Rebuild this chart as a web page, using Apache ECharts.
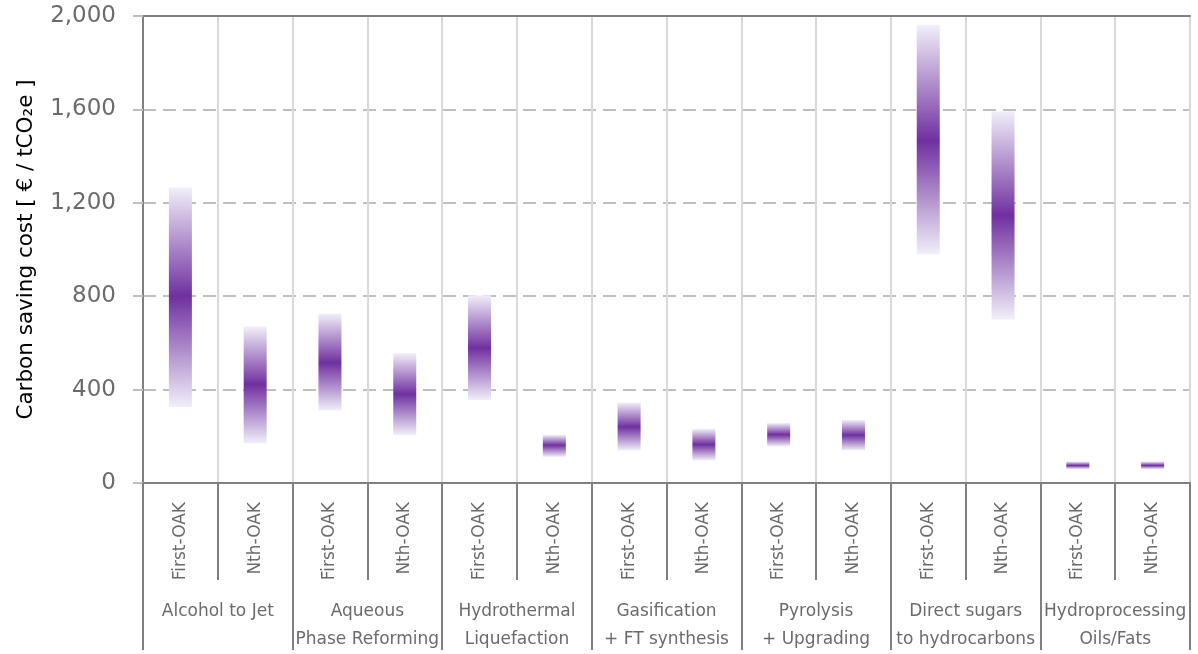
<!DOCTYPE html>
<html>
<head>
<meta charset="utf-8">
<script src="https://cdn.jsdelivr.net/npm/echarts@6/dist/echarts.min.js"></script>
<style>
html,body{margin:0;padding:0;background:#fff;}
#chart{width:1198px;height:654px;}
</style>
</head>
<body>
<div id="chart"></div>
<script>
// ---- data ----
const groups = ['Alcohol to Jet', 'Aqueous\nPhase Reforming', 'Hydrothermal\nLiquefaction', 'Gasification\n+ FT synthesis', 'Pyrolysis\n+ Upgrading', 'Direct sugars\nto hydrocarbons', 'Hydroprocessing\nOils/Fats'];
const stages = ['First-OAK', 'Nth-OAK', 'First-OAK', 'Nth-OAK', 'First-OAK', 'Nth-OAK', 'First-OAK', 'Nth-OAK', 'First-OAK', 'Nth-OAK', 'First-OAK', 'Nth-OAK', 'First-OAK', 'Nth-OAK'];
const lows  = [325, 170, 310, 205, 355, 112, 140,  97, 157, 140,  980,  700, 60, 60];
const peaks = [800, 422, 515, 381, 578, 162, 240, 165, 207, 205, 1465, 1145, 75, 75];
const highs = [1265, 670, 725, 556, 804, 206, 345, 232, 257, 270, 1962, 1592, 92, 92];
const yTicks = [0, 400, 800, 1200, 1600, 2000];
const yTitle = 'Carbon saving cost [ € / tCO₂e ]';

const chart = echarts.init(document.getElementById('chart'));
const seriesData = stages.map((s, i) => [i, lows[i], peaks[i], highs[i]]);
const FONT = 'DejaVu Sans';
const LABEL_GRAY = '#6b6b6b';
const AXIS_GRAY = '#808080';

const option = {
  animation: false,
  backgroundColor: '#ffffff',
  grid: { left: 143, right: 8, top: 16, bottom: 166, containLabel: false },
  xAxis: [
    {
      type: 'category', data: stages, position: 'bottom', boundaryGap: true,
      axisLine: { show: true, lineStyle: { color: AXIS_GRAY, width: 2 } },
      axisTick: { show: true, interval: 0, length: 97, lineStyle: { color: AXIS_GRAY, width: 2 } },
      axisLabel: { interval: 0, rotate: 90, margin: 19, fontSize: 17, color: LABEL_GRAY, fontFamily: FONT },
      splitLine: { show: true, interval: 0, lineStyle: { color: '#d9d9d9', width: 2 } }
    },
    {
      type: 'category', data: groups, position: 'bottom', offset: 97, boundaryGap: true,
      axisLine: { show: false },
      axisTick: { show: true, interval: 0, length: 70, lineStyle: { color: AXIS_GRAY, width: 2 } },
      axisLabel: { interval: 0, margin: 18, fontSize: 17, lineHeight: 28, color: LABEL_GRAY, fontFamily: FONT },
      splitLine: { show: false }
    },
    {
      type: 'category', data: stages, position: 'top', boundaryGap: true,
      axisLine: { show: true, lineStyle: { color: AXIS_GRAY, width: 2 } },
      axisTick: { show: false }, axisLabel: { show: false }, splitLine: { show: false }
    }
  ],
  yAxis: {
    type: 'value', min: yTicks[0], max: yTicks[yTicks.length - 1], interval: 400,
    name: yTitle, nameLocation: 'middle', nameGap: 106, nameRotate: 90,
    nameTextStyle: { fontSize: 21.5, color: '#000000', fontFamily: FONT },
    axisLine: { show: true, lineStyle: { color: AXIS_GRAY, width: 2 } },
    axisTick: { show: true, length: 10, lineStyle: { color: '#bfbfbf', width: 2 } },
    axisLabel: {
      margin: 27, fontSize: 23, color: LABEL_GRAY, fontFamily: FONT,
      formatter: v => v.toLocaleString('en-US')
    },
    splitLine: { show: true, lineStyle: { color: '#bfbfbf', width: 2, type: [13, 7] } }
  },
  series: [{
    type: 'custom',
    xAxisIndex: 0, yAxisIndex: 0,
    data: seriesData,
    encode: { x: 0, y: [1, 2, 3] },
    renderItem: function (params, api) {
      const i = api.value(0);
      const lo = api.value(1), pk = api.value(2), hi = api.value(3);
      const pTop = api.coord([i, hi]);
      const pBot = api.coord([i, lo]);
      const pPk = api.coord([i, pk]);
      const w = 23;
      const h = pBot[1] - pTop[1];
      let off = h > 0 ? (pPk[1] - pTop[1]) / h : 0.5;
      off = Math.max(0.001, Math.min(0.999, off));
      return {
        type: 'rect',
        shape: { x: pTop[0] - w / 2, y: pTop[1], width: w, height: h },
        style: {
          fill: new echarts.graphic.LinearGradient(0, 0, 0, 1, [
            { offset: 0, color: '#f1eff9' },
            { offset: off, color: '#7030a0' },
            { offset: 1, color: '#f1eff9' }
          ])
        }
      };
    }
  }]
};
chart.setOption(option);
</script>
</body>
</html>
